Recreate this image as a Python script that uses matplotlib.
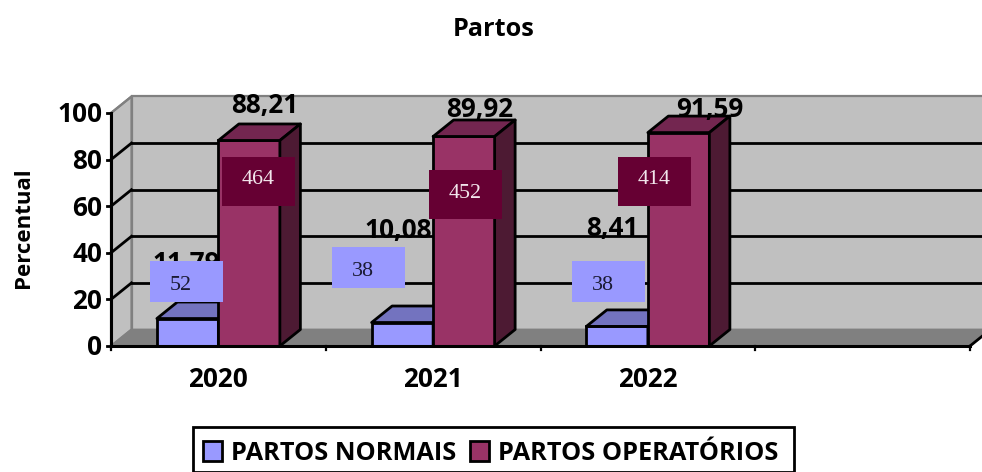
import matplotlib
matplotlib.use("Agg")
import matplotlib.pyplot as plt
from matplotlib.patches import Rectangle, Polygon

# DATA
anos = ["2020", "2021", "2022", ""]
normais = [11.79, 10.08, 8.41]
operatorios = [88.21, 89.92, 91.59]
qtd_normais = ["52", "38", "38"]
qtd_operatorios = ["464", "452", "414"]
rotulos_normais = ["11,79", "10,08", "8,41"]
rotulos_operatorios = ["88,21", "89,92", "91,59"]
yticks = [0, 20, 40, 60, 80, 100]

W, H = 982, 472
plt.rcParams['font.family'] = ['Open Sans', 'DejaVu Sans']
fig = plt.figure(figsize=(W / 100, H / 100), dpi=100)

# axes = front plane of the fake 3d box
L, R, B, T = 111, 970, 346, 113
ax = fig.add_axes([L / W, 1 - B / H, (R - L) / W, (B - T) / H])
ax.set_xlim(0, 4)
ax.set_ylim(0, 100)
ax.axis("off")

# depth of the box in data units
dx = 20.5 / ((R - L) / 4)
dy = 16.5 / ((B - T) / 100)
barw = 61.5 / ((R - L) / 4)

GRAY_EDGE = "#808080"
# walls
ax.add_patch(Polygon([(dx, dy), (4 + dx, dy), (4 + dx, 100 + dy), (dx, 100 + dy)],
                     fc="#C0C0C0", ec=GRAY_EDGE, lw=1.6, clip_on=False, zorder=1))
ax.add_patch(Polygon([(0, 0), (dx, dy), (dx, 100 + dy), (0, 100)],
                     fc="#C0C0C0", ec=GRAY_EDGE, lw=1.6, clip_on=False, zorder=1))
ax.add_patch(Polygon([(0, 0), (4, 0), (4 + dx, dy), (dx, dy)],
                     fc="#808080", ec=GRAY_EDGE, lw=1.2, clip_on=False, zorder=1))

# gridlines, on the back wall and left wall
for v in yticks:
    if v == 0:
        continue
    if v < 100:
        ax.plot([dx, 4 + dx], [v + dy, v + dy], color="black", lw=2, zorder=2, clip_on=False)
    ax.plot([0, dx], [v, v + dy], color="black" if v < 100 else GRAY_EDGE, lw=2 if v < 100 else 1.6,
            zorder=2, clip_on=False)

# axis lines and ticks
ax.plot([0, 0], [0, 100], color="black", lw=2.2, zorder=6, clip_on=False)
ax.plot([0, 4], [0, 0], color="black", lw=2.2, zorder=6, clip_on=False)
ax.plot([4, 4 + dx], [0, dy], color="black", lw=2, zorder=6, clip_on=False)
for v in yticks:
    ax.plot([-0.018, 0], [v, v], color="black", lw=2, zorder=6, clip_on=False)
    ax.text(-0.04, v - 0.8, str(v), ha="right", va="center", fontsize=18.8, fontweight="bold", clip_on=False)
for i in range(5):
    ax.plot([i, i], [0, -1.6], color="black", lw=1.6, zorder=6, clip_on=False)
for i, a in enumerate(anos):
    ax.text(i + 0.5, -14.2, a, ha="center", va="center", fontsize=18.8, fontweight="bold")


def bar3d(x, v, front, top, side, z):
    ax.bar(x, v, barw, align="edge", color=front, edgecolor="black", linewidth=2, zorder=z)
    ax.add_patch(Polygon([(x, v), (x + barw, v), (x + barw + dx, v + dy), (x + dx, v + dy)],
                         fc=top, ec="black", lw=2, zorder=z, joinstyle="round", clip_on=False))
    ax.add_patch(Polygon([(x + barw, 0), (x + barw + dx, dy), (x + barw + dx, v + dy), (x + barw, v)],
                         fc=side, ec="black", lw=2, zorder=z, joinstyle="round", clip_on=False))


for i in range(3):
    x0 = i + 0.5 - barw
    bar3d(x0, normais[i], "#9999FF", "#7373BF", "#4D4D80", 3)
    bar3d(x0 + barw, operatorios[i], "#993366", "#732650", "#4D1A33", 4)


def px(x, y):
    return x / W, 1 - y / H


def caixa(x, y, w, h, **kw):
    # rectangle in picture pixels, y is the top edge
    fig.add_artist(Rectangle(px(x, y + h), w / W, h / H, transform=fig.transFigure, **kw))


# data labels (pixel positions)
pos_norm = [(186, 264), (398, 230), (612, 228)]
pos_oper = [(265, 105), (480, 110), (710, 109)]
for i in range(3):
    fig.text(*px(*pos_norm[i]), rotulos_normais[i], ha="center", va="center", fontsize=18.8, fontweight="bold", zorder=7)
    fig.text(*px(*pos_oper[i]), rotulos_operatorios[i], ha="center", va="center", fontsize=18.8, fontweight="bold", zorder=7)

# boxes typed over the chart
box_norm = [(150, 261), (332, 247), (572, 261)]
box_oper = [(222, 157), (429, 170), (618, 157)]
for i in range(3):
    x, y = box_norm[i]
    caixa(x, y, 73, 41, fc="#9999FF", ec="none", zorder=8)
    fig.text(*px(x + 31, y + 24), qtd_normais[i], ha="center", va="center", fontsize=15.8,
             family="Liberation Serif", color="#1A1A33", zorder=9)
    x, y = box_oper[i]
    caixa(x, y, 73, 49, fc="#660033", ec="none", zorder=8)
    fig.text(*px(x + 36, y + 23), qtd_operatorios[i], ha="center", va="center", fontsize=15.8,
             family="Liberation Serif", color="#F2E6EC", zorder=9)

# titles
fig.text(*px(494, 29), "Partos", ha="center", va="center", fontsize=18.2, fontweight="bold")
fig.text(*px(24, 228), "Percentual", ha="center", va="center", rotation=90, fontsize=16, fontweight="bold")

# legend
caixa(193, 427, 601, 45, fc="white", ec="black", lw=2, zorder=5)
caixa(203, 441, 19, 20, fc="#9999FF", ec="black", lw=2, zorder=6)
caixa(470, 441, 19, 20, fc="#993366", ec="black", lw=2, zorder=6)
fig.text(*px(231, 453), "PARTOS NORMAIS", ha="left", va="center", fontsize=18.3, fontweight="bold", zorder=6)
fig.text(*px(498, 453), "PARTOS OPERATÓRIOS", ha="left", va="center", fontsize=18.3, fontweight="bold", zorder=6)

fig.savefig("out.png", dpi=100)
